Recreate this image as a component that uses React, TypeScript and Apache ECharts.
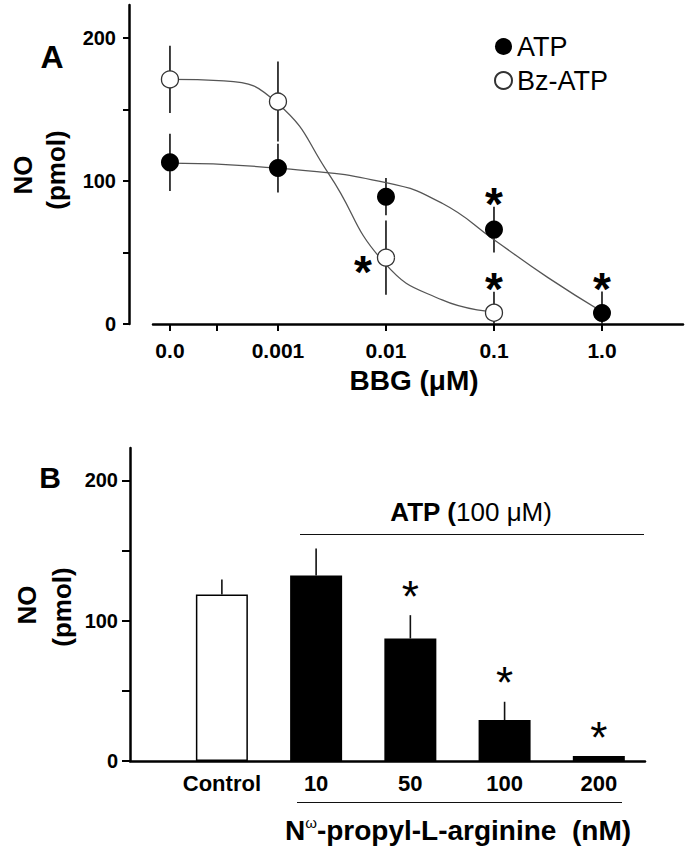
import React, { useEffect, useRef } from 'react';
import * as echarts from 'echarts';

// ---------- Panel A data ----------
const bbgLabels = ['0.0', '0.001', '0.01', '0.1', '1.0'];
const bbgPos = [0, 1, 2, 3, 4];
const bbgTickPos = [0, 0.43, 1, 2, 3, 4];
const atpMean = [113, 109, 89, 66, 7.7];
const atpSem = [20, 17, 13, 16, 15];
const atpSig = [0, 0, 0, 1, 1];
const bzMean = [171, 155.5, 46.4, 7.9];
const bzSem = [23.5, 28, 26, 14.7];
const bzSig = [0, 0, 1, 1];
const bzStarSide = ['top', 'top', 'left', 'top'];
const atpFitX = [0, 1, 2, 2.52, 3, 3.5, 4];
const atpFitY = [112.4, 108.9, 98.8, 84.4, 58.9, 32.4, 8.6];
const bzFitX = [0, 0.5, 1, 1.47, 1.99, 2.52, 3];
const bzFitY = [171, 170, 154, 105, 42.4, 16.8, 8.6];
const yTicksA = [0, 50, 100, 150, 200];
const yLabelsA = [0, 100, 200];

// ---------- Panel B data ----------
const nplaLabels = ['Control', '10', '50', '100', '200'];
const noMean = [118.6, 132.2, 87.3, 29.2, 3.6];
const noSem = [10.7, 19.2, 16.6, 13, 0];
const noSig = [0, 0, 1, 1, 1];

const FF = "'Liberation Sans', Arial, Helvetica, sans-serif";

function starText(x: number, cy: number, fs: number, weight: string) {
  return {
    type: 'text',
    x,
    y: cy + 0.23 * fs,
    style: {
      text: '*',
      fill: '#000',
      fontSize: fs,
      fontWeight: weight,
      fontFamily: FF,
      align: 'center',
      verticalAlign: 'middle',
    },
  };
}

function buildOption() {
  const errA: any[] = [];
  atpMean.forEach((v, i) => errA.push([bbgPos[i], v, atpSem[i], atpSig[i], 0]));
  bzMean.forEach((v, i) => errA.push([bbgPos[i], v, bzSem[i], bzSig[i], bzStarSide[i] === 'left' ? 1 : 0]));

  const errB = noMean.map((v, i) => [i, v, noSem[i], noSig[i]]);

  const axisLineStyle = { color: '#000', width: 2.5 };

  return {
    animation: false,
    backgroundColor: '#fff',
    grid: [
      { left: 153, top: 5, width: 530, height: 319 },
      { left: 130, top: 448, width: 515, height: 313 },
    ],
    xAxis: [
      {
        gridIndex: 0,
        type: 'value',
        min: -0.157,
        max: 4.75,
        axisLine: { show: true, onZero: false, lineStyle: axisLineStyle },
        axisTick: { show: true, customValues: bbgTickPos, length: 7, lineStyle: { color: '#000', width: 2 } },
        axisLabel: {
          customValues: bbgPos,
          formatter: (v: number) => bbgLabels[Math.round(v)],
          margin: 16,
          fontSize: 21,
          fontWeight: 'bold',
          color: '#000',
          fontFamily: FF,
        },
        splitLine: { show: false },
      },
      {
        gridIndex: 1,
        type: 'value',
        min: -0.975,
        max: 4.49,
        axisLine: { show: true, onZero: false, lineStyle: axisLineStyle },
        axisTick: { show: false },
        axisLabel: {
          customValues: [0, 1, 2, 3, 4],
          formatter: (v: number) => nplaLabels[Math.round(v)],
          margin: 11,
          fontSize: 22,
          fontWeight: 'bold',
          color: '#000',
          fontFamily: FF,
        },
        splitLine: { show: false },
      },
    ],
    yAxis: [
      {
        gridIndex: 0,
        type: 'value',
        min: 0,
        max: 223,
        offset: 24,
        axisLine: { show: true, onZero: false, lineStyle: axisLineStyle },
        axisTick: { show: true, customValues: yTicksA, length: 6, lineStyle: { color: '#000', width: 2 } },
        axisLabel: {
          customValues: yLabelsA,
          margin: 13,
          fontSize: 20,
          fontWeight: 'bold',
          color: '#000',
          fontFamily: FF,
        },
        splitLine: { show: false },
      },
      {
        gridIndex: 1,
        type: 'value',
        min: 0,
        max: 223,
        axisLine: { show: true, onZero: false, lineStyle: axisLineStyle },
        axisTick: { show: true, customValues: yTicksA, length: 8, lineStyle: { color: '#000', width: 2 } },
        axisLabel: {
          customValues: yLabelsA,
          margin: 12,
          fontSize: 20,
          fontWeight: 'bold',
          color: '#000',
          fontFamily: FF,
        },
        splitLine: { show: false },
      },
    ],
    legend: {
      data: ['ATP', 'Bz-ATP'],
      orient: 'vertical',
      left: 494,
      top: 33,
      itemWidth: 17,
      itemHeight: 17,
      itemGap: 7,
      padding: 0,
      selectedMode: false,
      textStyle: { fontSize: 27, color: '#000', fontFamily: FF },
    },
    series: [
      {
        type: 'custom',
        name: 'errA',
        xAxisIndex: 0,
        yAxisIndex: 0,
        z: 1,
        clip: false,
        encode: { x: 0, y: 1 },
        data: errA,
        renderItem: (params: any, api: any) => {
          const x = api.value(0);
          const v = api.value(1);
          const e = api.value(2);
          const lo = api.coord([x, Math.max(0, v - e)]);
          const hi = api.coord([x, v + e]);
          return {
            type: 'line',
            shape: { x1: lo[0], y1: lo[1], x2: hi[0], y2: hi[1] },
            style: { stroke: '#111', lineWidth: 1.6 },
          };
        },
      },
      {
        type: 'line',
        name: 'ATP fit',
        xAxisIndex: 0,
        yAxisIndex: 0,
        z: 2,
        smooth: 0.5,
        symbol: 'none',
        lineStyle: { color: '#555', width: 1.3 },
        data: atpFitX.map((x, i) => [x, atpFitY[i]]),
      },
      {
        type: 'line',
        name: 'Bz-ATP fit',
        xAxisIndex: 0,
        yAxisIndex: 0,
        z: 2,
        smooth: 0.5,
        symbol: 'none',
        lineStyle: { color: '#555', width: 1.3 },
        data: bzFitX.map((x, i) => [x, bzFitY[i]]),
      },
      {
        type: 'scatter',
        name: 'ATP',
        xAxisIndex: 0,
        yAxisIndex: 0,
        z: 3,
        symbol: 'circle',
        symbolSize: 18,
        itemStyle: { color: '#000', opacity: 1 },
        data: atpMean.map((v, i) => [bbgPos[i], v]),
      },
      {
        type: 'scatter',
        name: 'Bz-ATP',
        xAxisIndex: 0,
        yAxisIndex: 0,
        z: 3,
        symbol: 'circle',
        symbolSize: 17,
        itemStyle: { color: '#fff', borderColor: '#333', borderWidth: 1.3, opacity: 1 },
        data: bzMean.map((v, i) => [bbgPos[i], v]),
      },
      {
        type: 'custom',
        name: 'starsA',
        xAxisIndex: 0,
        yAxisIndex: 0,
        z: 4,
        clip: false,
        encode: { x: 0, y: 1 },
        data: errA,
        renderItem: (params: any, api: any) => {
          const x = api.value(0);
          const v = api.value(1);
          const e = api.value(2);
          const sig = api.value(3);
          const side = api.value(4);
          if (!sig) return { type: 'group', children: [] };
          const p = api.coord([x, v]);
          const hi = api.coord([x, v + e]);
          if (side === 1) return starText(p[0] - 23, p[1] + 4, 46, 'bold');
          return starText(hi[0], hi[1] - 13, 46, 'bold');
        },
      },
      {
        type: 'bar',
        name: 'NO',
        xAxisIndex: 1,
        yAxisIndex: 1,
        z: 2,
        barWidth: 52,
        data: noMean.map((v, i) => ({
          value: [i, v],
          itemStyle:
            i === 0
              ? { color: '#fff', borderColor: '#000', borderWidth: 1.5 }
              : { color: '#000', borderColor: '#000', borderWidth: 0 },
        })),
      },
      {
        type: 'custom',
        name: 'errB',
        xAxisIndex: 1,
        yAxisIndex: 1,
        z: 3,
        clip: false,
        encode: { x: 0, y: 1 },
        data: errB,
        renderItem: (params: any, api: any) => {
          const x = api.value(0);
          const v = api.value(1);
          const e = api.value(2);
          const sig = api.value(3);
          const base = api.coord([x, v]);
          const hi = api.coord([x, v + e]);
          const children: any[] = [];
          if (e > 0) {
            children.push({
              type: 'line',
              shape: { x1: base[0], y1: base[1], x2: hi[0], y2: hi[1] },
              style: { stroke: '#111', lineWidth: 1.6 },
            });
          }
          if (sig) children.push(starText(hi[0], hi[1] - 29, 44, 'normal'));
          return { type: 'group', children };
        },
      },
    ],
    graphic: [
      { type: 'text', x: 52, y: 57, style: { text: 'A', fontSize: 32, fontWeight: 'bold', fontFamily: FF, fill: '#000', align: 'center', verticalAlign: 'middle' } },
      { type: 'text', x: 50, y: 477, style: { text: 'B', fontSize: 30, fontWeight: 'bold', fontFamily: FF, fill: '#000', align: 'center', verticalAlign: 'middle' } },
      { type: 'text', x: 23, y: 175, rotation: Math.PI / 2, style: { text: 'NO', fontSize: 26, fontWeight: 'bold', fontFamily: FF, fill: '#000', align: 'center', verticalAlign: 'middle' } },
      { type: 'text', x: 56, y: 170, rotation: Math.PI / 2, style: { text: '(pmol)', fontSize: 26, fontWeight: 'bold', fontFamily: FF, fill: '#000', align: 'center', verticalAlign: 'middle' } },
      { type: 'text', x: 27, y: 605, rotation: Math.PI / 2, style: { text: 'NO', fontSize: 26, fontWeight: 'bold', fontFamily: FF, fill: '#000', align: 'center', verticalAlign: 'middle' } },
      { type: 'text', x: 62, y: 607, rotation: Math.PI / 2, style: { text: '(pmol)', fontSize: 26, fontWeight: 'bold', fontFamily: FF, fill: '#000', align: 'center', verticalAlign: 'middle' } },
      { type: 'text', x: 414, y: 380, style: { text: 'BBG (μM)', fontSize: 28, fontWeight: 'bold', fontFamily: FF, fill: '#000', align: 'center', verticalAlign: 'middle' } },
      {
        type: 'text',
        x: 471,
        y: 512,
        style: {
          text: '{b|ATP (}{r|100 μM)}',
          align: 'center',
          verticalAlign: 'middle',
          fill: '#000',
          rich: {
            b: { fontSize: 26, fontWeight: 'bold', fontFamily: FF, fill: '#000' },
            r: { fontSize: 26, fontWeight: 'normal', fontFamily: FF, fill: '#000' },
          },
        },
      },
      { type: 'line', shape: { x1: 300, y1: 534.5, x2: 644, y2: 534.5 }, style: { stroke: '#111', lineWidth: 1 } },
      { type: 'line', shape: { x1: 297, y1: 802.5, x2: 622, y2: 802.5 }, style: { stroke: '#111', lineWidth: 1 } },
      {
        type: 'text',
        x: 458,
        y: 830,
        style: {
          text: '{b|N}{s|ω}{b|-propyl-L-arginine  (nM)}',
          align: 'center',
          verticalAlign: 'middle',
          fill: '#000',
          rich: {
            b: { fontSize: 28, fontWeight: 'bold', fontFamily: FF, fill: '#000', lineHeight: 30 },
            s: { fontSize: 15, fontWeight: 'normal', fontFamily: FF, fill: '#000', verticalAlign: 'top', lineHeight: 30 },
          },
        },
      },
    ],
  };
}

export default function App() {
  const ref = useRef<HTMLDivElement>(null);
  useEffect(() => {
    if (!ref.current) return;
    const chart = echarts.init(ref.current, null, { renderer: 'svg' });
    chart.setOption(buildOption() as any);
    return () => chart.dispose();
  }, []);
  return (
    <div
      ref={ref}
      style={{ position: 'fixed', left: 0, top: 0, width: 686, height: 852, background: '#fff' }}
    />
  );
}
